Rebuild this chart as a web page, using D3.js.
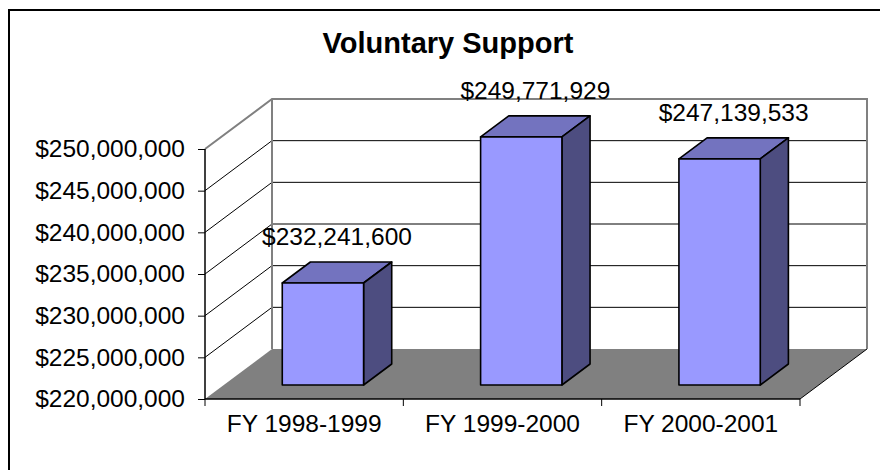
<!DOCTYPE html>
<html>
<head>
<meta charset="utf-8">
<script src="https://cdn.jsdelivr.net/npm/d3@7"></script>
<style>
  body { margin: 0; background: #fff; }
  svg { display: block; font-family: "Liberation Sans", Arial, sans-serif; }
</style>
</head>
<body>
<svg id="chart" width="880" height="470"></svg>
<script>
const categories = ['FY 1998-1999', 'FY 1999-2000', 'FY 2000-2001'];
const support = [232241600, 249771929, 247139533];
const tickValues = [220e6, 225e6, 230e6, 235e6, 240e6, 245e6, 250e6];

const svg = d3.select('#chart');
const depth = {dx: 67, dy: -50};   // floor depth, front to back wall
const f0 = 0.28, f1 = 0.70;          // bar front / back as part of depth

const x = d3.scaleBand().domain(categories).range([205, 800]);
const y = d3.scaleLinear().domain([220e6, 250e6]).range([399, 149]);

// point on the 3d box: x, y at the front, pushed back by f of the depth
const proj = (px, py, f) => [px + f * depth.dx, py + f * depth.dy];
const poly = (pts) => pts.map(p => p.join(',')).join(' ');

// outer border
svg.append('rect')
    .attr('x', 9).attr('y', 10)
    .attr('width', 900).attr('height', 500)
    .style('fill', 'none')
    .style('stroke', '#000')
    .style('stroke-width', 2);

// title
svg.append('text')
    .attr('x', 448).attr('y', 53)
    .attr('text-anchor', 'middle')
    .style('font-size', '29px')
    .style('font-weight', 'bold')
    .text('Voluntary Support');

const [x0, x1] = x.range();
const yTop = y(250e6), yBot = y(220e6);

// back wall
svg.append('polygon')
    .attr('points', poly([proj(x0, yTop, 1), proj(x1, yTop, 1), proj(x1, yBot, 1), proj(x0, yBot, 1)]))
    .style('fill', '#fff');

// gridlines on back wall and side wall
const inner = tickValues.filter(v => v > 220e6 && v < 250e6);
svg.append('g').selectAll('line')
    .data(inner)
    .join('line')
    .attr('x1', proj(x0, 0, 1)[0]).attr('x2', proj(x1, 0, 1)[0])
    .attr('y1', v => proj(x0, y(v), 1)[1]).attr('y2', v => proj(x0, y(v), 1)[1])
    .style('stroke', '#000').style('stroke-width', 1);
svg.append('g').selectAll('line')
    .data(inner)
    .join('line')
    .attr('x1', x0).attr('y1', v => y(v))
    .attr('x2', proj(x0, 0, 1)[0]).attr('y2', v => proj(x0, y(v), 1)[1])
    .style('stroke', '#000').style('stroke-width', 1);

// floor
svg.append('polygon')
    .attr('points', poly([proj(x0, yBot, 0), proj(x0, yBot, 1), proj(x1, yBot, 1), proj(x1, yBot, 0)]))
    .style('fill', '#808080');
svg.append('line')
    .attr('x1', x1).attr('y1', yBot)
    .attr('x2', proj(x1, yBot, 1)[0]).attr('y2', proj(x1, yBot, 1)[1])
    .style('stroke', '#000').style('stroke-width', 1);

// wall edges
svg.append('polyline')
    .attr('points', poly([proj(x0, yTop, 0), proj(x0, yTop, 1), proj(x1, yTop, 1), proj(x1, yBot, 1)]))
    .style('fill', 'none').style('stroke', '#808080').style('stroke-width', 2);
svg.append('line')
    .attr('x1', proj(x0, 0, 1)[0]).attr('x2', proj(x0, 0, 1)[0])
    .attr('y1', proj(x0, yTop, 1)[1]).attr('y2', proj(x0, yBot, 1)[1])
    .style('stroke', '#808080').style('stroke-width', 2);

// bars
const barW = x.bandwidth() * 0.41;
const rows = categories.map((c, i) => ({cat: c, val: support[i]}));
const bars = svg.append('g').selectAll('g')
    .data(rows)
    .join('g')
    .style('stroke', '#000')
    .style('stroke-width', 1.6)
    .style('stroke-linejoin', 'round');

bars.each(function(d) {
    const g = d3.select(this);
    const l = x(d.cat) + (x.bandwidth() - barW) / 2, r = l + barW;
    const t = y(d.val);
    g.append('polygon')
        .attr('points', poly([proj(l, t, f0), proj(r, t, f0), proj(r, t, f1), proj(l, t, f1)]))
        .style('fill', '#7373bf');
    g.append('polygon')
        .attr('points', poly([proj(r, t, f0), proj(r, t, f1), proj(r, yBot, f1), proj(r, yBot, f0)]))
        .style('fill', '#4d4d80');
    g.append('polygon')
        .attr('points', poly([proj(l, t, f0), proj(r, t, f0), proj(r, yBot, f0), proj(l, yBot, f0)]))
        .style('fill', '#9999ff');
});

// data labels
svg.append('g').selectAll('text')
    .data(rows)
    .join('text')
    .attr('x', d => proj(x(d.cat) + x.bandwidth() / 2, 0, (f0 + f1) / 2)[0])
    .attr('y', d => proj(0, y(d.val), (f0 + f1) / 2)[1] - 27)
    .attr('text-anchor', 'middle')
    .style('font-size', '24.5px')
    .text(d => d3.format('$,')(d.val));

// value axis
const yAxis = svg.append('g')
    .attr('transform', `translate(${x0},0)`)
    .call(d3.axisLeft(y).tickValues(tickValues).tickFormat(d3.format('$,')).tickSize(7).tickPadding(13));
yAxis.select('.domain').attr('d', `M0,${yTop}V${yBot}`).style('stroke-width', 1.5);
yAxis.selectAll('text').style('font-size', '24.5px').style('font-family', 'Liberation Sans, Arial, sans-serif').style('fill', '#000');

// category axis
const xAxis = svg.append('g')
    .attr('transform', `translate(0,${yBot})`)
    .call(d3.axisBottom(x).tickSize(0).tickPadding(16));
xAxis.select('.domain').attr('d', `M${x0},0H${x1}`).style('stroke-width', 1.5);
xAxis.selectAll('text').style('font-size', '24.5px').style('font-family', 'Liberation Sans, Arial, sans-serif').style('fill', '#000');
xAxis.selectAll('.bound')
    .data(categories.map(c => x(c)).concat([x1]))
    .join('line')
    .attr('class', 'bound')
    .attr('x1', d => d).attr('x2', d => d)
    .attr('y1', 0).attr('y2', 7)
    .style('stroke', '#000');
</script>
</body>
</html>
